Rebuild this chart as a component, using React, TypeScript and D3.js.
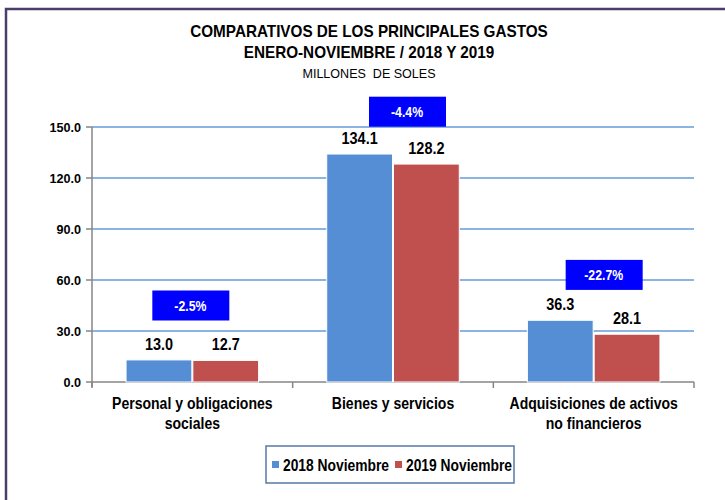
import React from "react";
import * as d3 from "d3";

const categories = [
  ["Personal y obligaciones", "sociales"],
  ["Bienes y servicios"],
  ["Adquisiciones de activos", "no financieros"],
];
const seriesNames = ["2018 Noviembre", "2019 Noviembre"];
const values2018 = [13.0, 134.1, 36.3];
const values2019 = [12.7, 128.2, 28.1];
const changeLabels = ["-2.5%", "-4.4%", "-22.7%"];
const changeLevels = [45, 159, 63];
const changeShift = [-2, 14, 10];
const yTicks = [0, 30, 60, 90, 120, 150];
const titleLines = ["COMPARATIVOS DE LOS PRINCIPALES GASTOS", "ENERO-NOVIEMBRE / 2018 Y 2019"];
const subtitle = "MILLONES  DE SOLES";

const colors = ["#558ed5", "#c0504d"];
const FONT = "'Liberation Sans', Arial, sans-serif";

function CText(props: {
  x: number; y: number; sx: number; size: number; bold?: boolean; anchor?: string; fill?: string; dy?: string; children: React.ReactNode;
}) {
  const { x, y, sx, size, bold, anchor, fill, dy, children } = props;
  return (
    <text
      transform={`translate(${x},${y}) scale(${sx},1)`}
      textAnchor={anchor || "middle"}
      fontWeight={bold ? "bold" : "normal"}
      fontSize={size}
      fill={fill || "#000"}
      dy={dy}
      style={{ whiteSpace: "pre" }}
    >
      {children}
    </text>
  );
}

export default function App() {
  const W = 725, H = 500;
  const left = 92, right = 694, top = 127, bottom = 382;
  const x = d3.scaleBand<number>().domain(d3.range(categories.length)).range([left, right]).padding(0);
  const inner = d3.scaleBand<number>().domain([0, 1]).range([0, x.bandwidth()]).paddingInner(0.015).paddingOuter(0.51);
  const y = d3.scaleLinear().domain([0, 150]).range([bottom, top]);
  const series = [values2018, values2019];

  return (
    <svg width={W} height={H} style={{ position: "absolute", left: 0, top: 0, background: "#fff" }} fontFamily={FONT}>
      <rect x={0} y={0} width={W} height={H} fill="#fff" />
      <rect x={6} y={9} width={W + 10} height={H + 10} fill="none" stroke="#4b3e6c" strokeWidth={2.5} />
      {/* titles */}
      <CText x={369} y={37} sx={0.955} size={16} bold>{titleLines[0]}</CText>
      <CText x={369} y={58} sx={0.955} size={16} bold>{titleLines[1]}</CText>
      <CText x={369} y={78} sx={0.93} size={13.5}>{subtitle}</CText>
      {/* gridlines */}
      {yTicks.filter((t) => t > 0).map((t) => (
        <line key={t} x1={left} x2={right} y1={y(t)} y2={y(t)} stroke="#8db3e2" strokeWidth={2} />
      ))}
      {/* y axis */}
      <line x1={left} x2={left} y1={y(150)} y2={bottom + 5} stroke="#868686" strokeWidth={1.5} />
      {yTicks.map((t) => (
        <g key={t}>
          <line x1={left - 6} x2={left} y1={y(t)} y2={y(t)} stroke="#868686" strokeWidth={1.5} />
          <CText x={81} y={y(t)} sx={0.97} size={13} bold anchor="end" dy="0.35em">
            {d3.format(".1f")(t)}
          </CText>
        </g>
      ))}
      {/* x axis */}
      <line x1={left} x2={right} y1={bottom} y2={bottom} stroke="#868686" strokeWidth={1.5} />
      {d3.range(categories.length + 1).map((i) => {
        const xx = i < categories.length ? (x(i) as number) : right;
        return <line key={i} x1={xx} x2={xx} y1={bottom} y2={bottom + 6} stroke="#868686" strokeWidth={1.5} />;
      })}
      {/* bars */}
      {categories.map((_, i) =>
        series.map((vals, s) => {
          const bx = (x(i) as number) + (inner(s) as number);
          return (
            <g key={`${i}-${s}`}>
              <rect x={bx} y={y(vals[i])} width={inner.bandwidth()} height={bottom - y(vals[i])} fill={colors[s]} stroke="#fff" strokeWidth={1} />
              <CText x={bx + inner.bandwidth() / 2} y={y(vals[i]) - 10} sx={0.85} size={17} bold>
                {d3.format(".1f")(vals[i])}
              </CText>
            </g>
          );
        })
      )}
      {/* change boxes */}
      {changeLabels.map((lab, i) => {
        const cx = (x(i) as number) + x.bandwidth() / 2 + changeShift[i];
        const cy = y(changeLevels[i]);
        return (
          <g key={lab}>
            <rect x={cx - 38} y={cy - 15} width={77} height={30} fill="#0000ff" />
            <CText x={cx} y={cy} sx={0.82} size={15} bold fill="#fff" dy="0.35em">{lab}</CText>
          </g>
        );
      })}
      {/* category labels */}
      {categories.map((lines, i) => (
        <g key={i}>
          {lines.map((l, k) => (
            <CText key={k} x={(x(i) as number) + x.bandwidth() / 2} y={409 + k * 20} sx={0.825} size={17} bold>{l}</CText>
          ))}
        </g>
      ))}
      {/* legend */}
      <rect x={266} y={446} width={248} height={37} fill="#fff" stroke="#5a77a6" strokeWidth={1.5} />
      {seriesNames.map((n, s) => {
        const lx = s === 0 ? 272 : 395;
        return (
          <g key={n}>
            <rect x={lx} y={461} width={7} height={7} fill={colors[s]} />
            <CText x={lx + 11} y={465} sx={0.864} size={16} bold anchor="start" dy="0.35em">{n}</CText>
          </g>
        );
      })}
    </svg>
  );
}
